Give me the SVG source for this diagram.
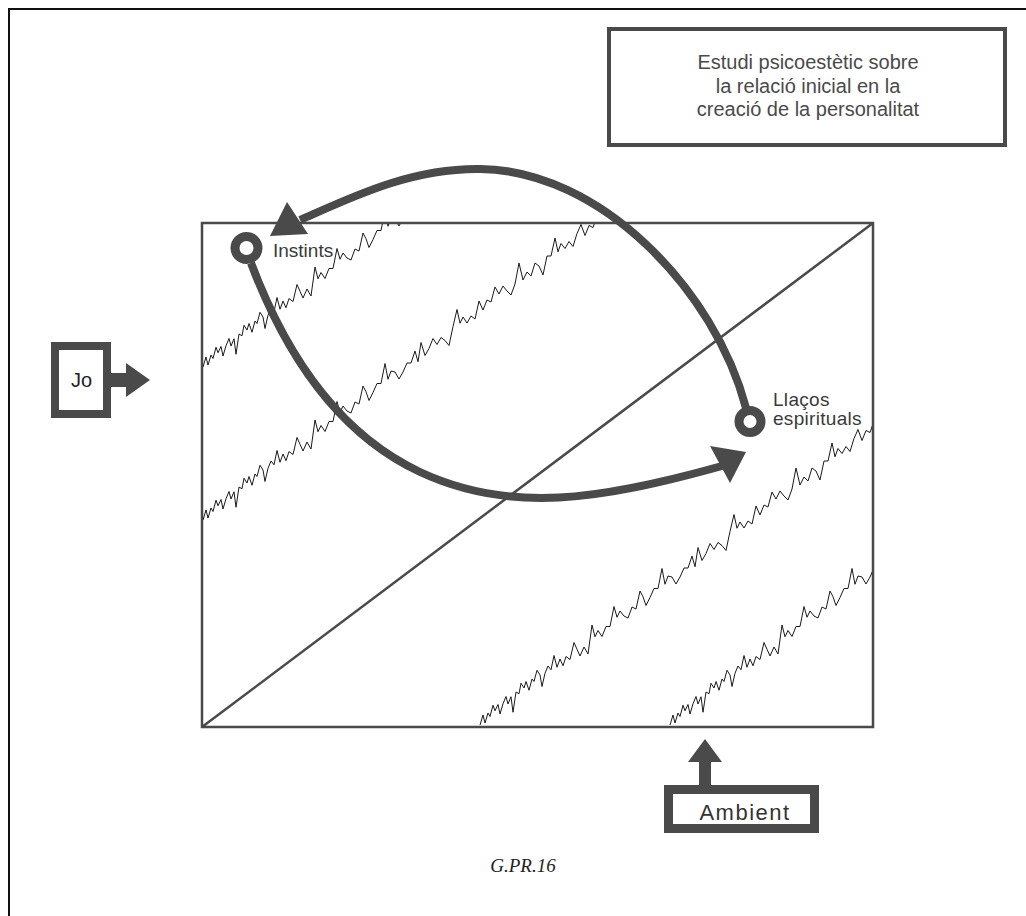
<svg xmlns="http://www.w3.org/2000/svg" xmlns:xlink="http://www.w3.org/1999/xlink" width="1026" height="916" viewBox="0 0 1026 916">
<style>
.frame{fill:none;stroke:#111;stroke-width:2}
.box{fill:#fff;stroke:#4a4a4a}
.edge{fill:none;stroke:#4a4a4a;stroke-width:2.5}
.jag{fill:none;stroke:#1a1a1a;stroke-width:1;stroke-linejoin:miter}
.thick{fill:none;stroke:#4a4a4a;stroke-width:8;stroke-linecap:butt}
.head{fill:#4a4a4a;stroke:none}
.ring{fill:#fff;stroke:#4a4a4a;stroke-width:9}
.lbl{font-family:"Liberation Sans",Arial,Helvetica,sans-serif;font-size:19px;fill:#3a3a3a}
.ttl{font-family:"Liberation Sans",Arial,Helvetica,sans-serif;font-size:20px;fill:#4a4a4a;text-anchor:middle}
.cap{font-family:"Liberation Serif","Times New Roman",serif;font-style:italic;font-size:19px;fill:#222;text-anchor:middle}
</style>
<defs>
<clipPath id="inner"><rect x="203" y="224" width="669" height="502"/></clipPath>
<path id="jagline" class="jag" d="M0,0 L3,-10 L5,-2 L8,-12 L10,-8.5 L13,-19.75 L15,-14.25 L18,-20.5 L20,-11 L23,-21.25 L26,-28.5 L28,-21 L31,-28.25 L33,-12.75 L36,-33 L39,-31.25 L41,-41.75 L44,-37 L46,-43.5 L49,-34.75 L52,-46 L54,-43.5 L57,-54.75 L60,-50 L62,-38.5 L65,-51.75 L68,-59 L71,-55.25 L74,-69.5 L77,-57.75 L80,-66 L83,-59.25 L86,-68.5 L90,-65.5 L94,-82.5 L97,-75.75 L100,-69 L104,-78 L108,-71 L112,-100 L115,-88.25 L118,-94.5 L122,-88.5 L126,-98.5 L130,-98.5 L134,-118.5 L137,-107.75 L140,-114 L144,-109 L148,-107 L152,-118 L156,-116 L160,-134 L163,-128.25 L166,-119.5 L170,-127.5 L174,-136.5 L178,-136.5 L182,-156.5 L185,-140.75 L188,-149 L192,-148 L196,-141 L200,-148 L204,-157 L208,-157 L212,-169 L215,-158.25 L218,-177.5 L222,-164.5 L226,-171.5 L230,-181.5 L234,-175.5 L238,-182.5 L242,-179.5 L246,-174.5 L250,-193.5 L254,-210.5 L257,-196.75 L260,-203 L264,-197 L268,-204 L272,-201 L276,-219 L280,-210 L284,-220 L288,-218 L292,-233 L296,-226 L300,-234 L304,-229 L308,-225 L312,-236 L316,-257 L320,-240 L324,-248 L328,-244 L332,-257 L336,-254 L340,-245 L344,-264 L348,-264 L352,-282 L355,-268.25 L358,-276.5 L362,-271.5 L366,-278.5 L370,-273.5 L374,-286.5 L378,-295.5 L382,-284.5 L386,-294.5 L390,-292.5 L394,-303.5 L398,-300.5 L402,-301.5"/>
</defs>

<g id="frame">
<line class="frame" x1="8" y1="9" x2="1026" y2="9"/>
<line class="frame" x1="9" y1="8" x2="9" y2="916"/>
</g>

<g id="field">
<rect class="edge" x="202" y="223" width="671" height="504"/>
<line class="edge" x1="202" y1="727" x2="873" y2="223"/>
<g clip-path="url(#inner)">
<use xlink:href="#jagline" x="203" y="367"/>
<use xlink:href="#jagline" x="203" y="520"/>
<use xlink:href="#jagline" x="480" y="725"/>
<use xlink:href="#jagline" x="670" y="725"/>
</g>
</g>

<g id="title">
<rect class="box" x="609" y="29" width="396" height="116" stroke-width="4"/>
<text class="ttl" x="808" y="69">Estudi psicoestètic sobre</text>
<text class="ttl" x="808" y="93">la relació inicial en la</text>
<text class="ttl" x="808" y="116">creació de la personalitat</text>
</g>

<g id="jo">
<rect class="box" x="55" y="346" width="52" height="68" stroke-width="8"/>
<text x="81.5" y="387" font-family="Liberation Sans,Arial,sans-serif" font-size="20" fill="#222" text-anchor="middle">Jo</text>
<polygon class="head" points="110,373 126,373 126,363 150,380 126,397 126,387 110,387"/>
</g>

<g id="ambient">
<rect class="box" x="668.5" y="789.5" width="146" height="39" stroke-width="9"/>
<text x="745" y="820" font-family="Liberation Sans,Arial,sans-serif" font-size="22" letter-spacing="1.5" fill="#333" text-anchor="middle">Ambient</text>
<polygon class="head" points="699,786 699,762 688,762 705,739 722,762 711,762 711,786"/>
</g>

<g id="connectors">
<path class="thick" d="M251,263 C280,340 330,430 420,472 S600,500 722,466"/>
<polygon class="head" points="746,452 710,446 730,483"/>
<path class="thick" d="M746,408 C715,290 600,170 480,169 C410,168 350,198 300,220"/>
<polygon class="head" points="287,202 270,236 308,234"/>
</g>

<g id="instints">
<circle class="ring" cx="246.5" cy="248" r="11.5"/>
<text class="lbl" x="273" y="257">Instints</text>
</g>

<g id="llacos">
<circle class="ring" cx="750" cy="421.5" r="11"/>
<text class="lbl" x="773" y="406" letter-spacing="0.3">Llaços</text>
<text class="lbl" x="773" y="425" letter-spacing="0.3">espirituals</text>
</g>

<g id="caption">
<text class="cap" x="523" y="872">G.PR.16</text>
</g>
</svg>
